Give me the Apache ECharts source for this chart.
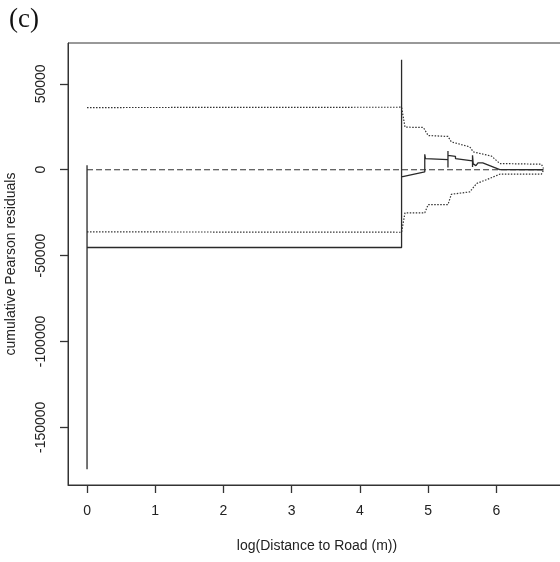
<!DOCTYPE html>
<html>
<head>
<meta charset="utf-8">
<script src="https://cdn.jsdelivr.net/npm/echarts@6/dist/echarts.min.js"></script>
<style>
  html, body { margin: 0; padding: 0; background: #fff; }
  #chart { width: 560px; height: 562px; }
</style>
</head>
<body>
<div id="chart"></div>
<script>
// tick labels
const X_TICKS = [0, 1, 2, 3, 4, 5, 6];
const Y_TICKS = [-150000, -100000, -50000, 0, 50000];

// cumulative Pearson residuals (solid step path), [log distance, value]
const residX = [0, 0, 0, 0, 4.61, 4.61, 4.61, 4.95, 4.95, 4.95, 4.96, 5.29, 5.29, 5.29, 5.29, 5.40, 5.40, 5.65, 5.65, 5.65, 5.66, 5.70, 5.73, 5.75, 5.80, 6.05, 6.69];
const residY = [0, 2600, -174500, -45300, -45300, 64100, -4200, -1300, -2200, 9000, 6500, 5900, 1300, 10900, 8400, 7800, 6500, 5100, 1600, 8400, 3400, 2400, 4000, 5100, 4000, 100, 0];

// upper simulated band (dotted)
const upperX = [0, 4.61, 4.66, 4.93, 5.00, 5.29, 5.34, 5.61, 5.66, 5.93, 6.05, 6.66, 6.69];
const upperY = [36200, 36400, 24800, 24600, 19900, 19400, 16200, 13300, 10400, 7900, 3600, 3200, 700];

// lower simulated band (dotted)
const lowerX = [0, 4.61, 4.66, 4.95, 5.00, 5.29, 5.34, 5.61, 5.71, 5.90, 6.05, 6.66, 6.69];
const lowerY = [-36200, -36400, -25100, -25100, -20300, -20300, -14300, -12900, -8000, -5100, -2600, -2600, -300];

// zero reference line (dashed)
const zeroX = [0, 6.72];
const zeroY = [0, 0];

const pairs = (xs, ys) => xs.map((x, i) => [x, ys[i]]);

const INK = '#2a2a2a';
const FONT = 'Liberation Sans, Arial, sans-serif';

const chart = echarts.init(document.getElementById('chart'));

const option = {
  backgroundColor: '#fff',
  animation: false,
  grid: {
    left: 68,
    top: 43,
    right: -6,
    bottom: 77,
    show: true,
    borderColor: '#333',
    borderWidth: 1,
    outerBoundsMode: 'none'
  },
  graphic: [
    {
      type: 'text',
      left: 9,
      top: 6,
      style: {
        text: '(c)',
        font: '27px "Liberation Serif", "Times New Roman", serif',
        fill: '#111'
      }
    }
  ],
  xAxis: {
    type: 'value',
    min: -0.279,
    max: 7.02,
    name: 'log(Distance to Road (m))',
    nameLocation: 'middle',
    nameGap: 54,
    nameTextStyle: { color: '#222', fontSize: 14, fontFamily: FONT },
    axisLine: { show: true, onZero: false, lineStyle: { color: '#333', width: 1 } },
    axisTick: {
      show: true,
      length: 8,
      customValues: X_TICKS,
      lineStyle: { color: '#333', width: 1.3 }
    },
    axisLabel: {
      color: '#222',
      fontSize: 14,
      fontFamily: FONT,
      margin: 19,
      customValues: X_TICKS,
      formatter: (v) => String(v)
    },
    splitLine: { show: false }
  },
  yAxis: {
    type: 'value',
    min: -183600,
    max: 73800,
    name: 'cumulative Pearson residuals',
    nameLocation: 'middle',
    nameGap: 50,
    nameTextStyle: { color: '#222', fontSize: 14, fontFamily: FONT },
    axisLine: { show: true, onZero: false, lineStyle: { color: '#333', width: 1 } },
    axisTick: {
      show: true,
      length: 8,
      customValues: Y_TICKS,
      lineStyle: { color: '#333', width: 1.3 }
    },
    axisLabel: {
      color: '#222',
      fontSize: 14,
      fontFamily: FONT,
      rotate: 90,
      margin: 20,
      customValues: Y_TICKS,
      formatter: (v) => String(v)
    },
    splitLine: { show: false }
  },
  series: [
    {
      name: 'zero',
      type: 'line',
      data: pairs(zeroX, zeroY),
      symbol: 'none',
      lineStyle: { color: '#333', width: 1.2, type: [6, 3] }
    },
    {
      name: 'upper',
      type: 'line',
      data: pairs(upperX, upperY),
      symbol: 'none',
      lineStyle: { color: '#333', width: 1.2, type: [1.5, 1.5] }
    },
    {
      name: 'lower',
      type: 'line',
      data: pairs(lowerX, lowerY),
      symbol: 'none',
      lineStyle: { color: '#333', width: 1.2, type: [1.5, 1.5] }
    },
    {
      name: 'residuals',
      type: 'line',
      data: pairs(residX, residY),
      symbol: 'none',
      lineStyle: { color: INK, width: 1.3 }
    }
  ]
};

chart.setOption(option);
</script>
</body>
</html>
